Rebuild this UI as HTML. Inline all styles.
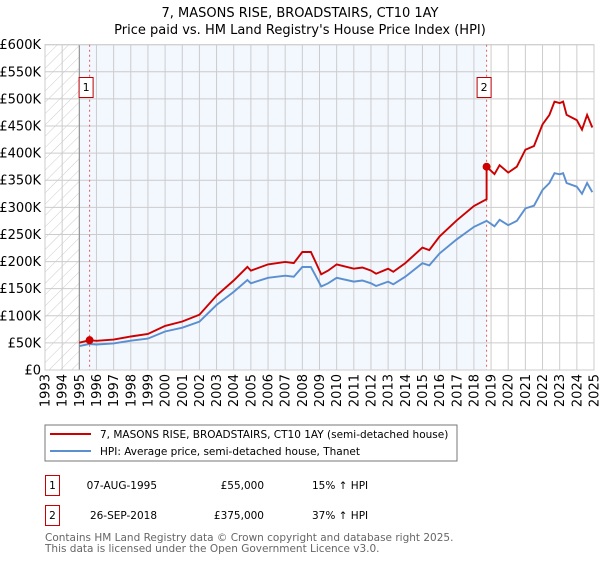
<!DOCTYPE html>
<html><head><meta charset="utf-8"><style>
body{margin:0;background:#fff;font-family:"DejaVu Sans","Liberation Sans",sans-serif;}
svg text{font-family:"DejaVu Sans","Liberation Sans",sans-serif;}
</style></head><body>
<svg width="600" height="560" viewBox="0 0 600 560">
<defs><pattern id="hatch" width="8" height="8" patternUnits="userSpaceOnUse" patternTransform="rotate(45)"><line x1="0" y1="0" x2="0" y2="8" stroke="#ccc" stroke-width="1"/></pattern></defs>
<text x="300" y="17" text-anchor="middle" font-size="13">7, MASONS RISE, BROADSTAIRS, CT10 1AY</text>
<text x="300" y="34" text-anchor="middle" font-size="13">Price paid vs. HM Land Registry's House Price Index (HPI)</text>
<g id="plot"></g>
<rect x="45" y="425" width="412" height="36" fill="#fff" stroke="#777"/>
<line x1="50" y1="434" x2="91" y2="434" stroke="#cc0000" stroke-width="2"/>
<text x="100" y="438" font-size="10.5">7, MASONS RISE, BROADSTAIRS, CT10 1AY (semi-detached house)</text>
<line x1="50" y1="451" x2="91" y2="451" stroke="#5b8fd0" stroke-width="2"/>
<text x="100" y="455" font-size="10.5">HPI: Average price, semi-detached house, Thanet</text>
<g>
<rect x="45.5" y="475.5" width="14" height="20" fill="none" stroke="#c00"/>
<text x="52.5" y="489" text-anchor="middle" font-size="10.5">1</text>
<text x="157" y="489" text-anchor="end" font-size="10.5">07-AUG-1995</text>
<text x="264" y="489" text-anchor="end" font-size="10.5">£55,000</text>
<text x="312" y="489" font-size="10.5">15% ↑ HPI</text></g>
<g>
<rect x="45.5" y="505.5" width="14" height="20" fill="none" stroke="#c00"/>
<text x="52.5" y="519" text-anchor="middle" font-size="10.5">2</text>
<text x="157" y="519" text-anchor="end" font-size="10.5">26-SEP-2018</text>
<text x="264" y="519" text-anchor="end" font-size="10.5">£375,000</text>
<text x="312" y="519" font-size="10.5">37% ↑ HPI</text></g>
<text x="45" y="541" font-size="10.5" fill="#666">Contains HM Land Registry data © Crown copyright and database right 2025.</text>
<text x="45" y="552" font-size="10.5" fill="#666">This data is licensed under the Open Government Licence v3.0.</text>
</svg>
<script>
const hpiYears=[1995.0,1995.6,1996.0,1997.0,1998.0,1999.0,2000.0,2001.0,2002.0,2003.0,2004.0,2004.8,2005.0,2006.0,2007.0,2007.5,2008.0,2008.5,2008.8,2009.1,2009.5,2010.0,2011.0,2011.5,2012.0,2012.3,2013.0,2013.3,2014.0,2015.0,2015.4,2016.0,2017.0,2018.0,2018.74,2019.2,2019.5,2020.0,2020.5,2021.0,2021.5,2022.0,2022.4,2022.7,2023.0,2023.2,2023.4,2024.0,2024.3,2024.6,2024.9];
const hpiValues=[44,48,47,49,54,58,71,78,89,120,144,166,160,170,174,172,190,190,172,154,160,170,163,165,160,155,163,158,172,197,193,215,241,264,275,265,277,267,275,298,303,332,345,363,361,363,345,338,325,345,328];
const saleYears=[1995.6,2018.74];
const salePrices=[55,375];
const yTicks=[0,50,100,150,200,250,300,350,400,450,500,550,600];
const yTickLabels=["£0","£50K","£100K","£150K","£200K","£250K","£300K","£350K","£400K","£450K","£500K","£550K","£600K"];
const xTicks=[1993,1994,1995,1996,1997,1998,1999,2000,2001,2002,2003,2004,2005,2006,2007,2008,2009,2010,2011,2012,2013,2014,2015,2016,2017,2018,2019,2020,2021,2022,2023,2024,2025];
const X0=45,X1=594,Y0=370,Y1=44.7;
const xs=y=>X0+(y-1993)/(2025-1993)*(X1-X0);
const ys=v=>Y0-v/600*(Y0-Y1);
const NS="http://www.w3.org/2000/svg";
const g=document.getElementById('plot');
function mk(t,a,p){const e=document.createElementNS(NS,t);for(const k in a)e.setAttribute(k,a[k]);(p||g).appendChild(e);return e;}
function hpiAt(t){for(let i=0;i<hpiYears.length-1;i++){if(t>=hpiYears[i]&&t<=hpiYears[i+1]){const f=(t-hpiYears[i])/(hpiYears[i+1]-hpiYears[i]);return hpiValues[i]+f*(hpiValues[i+1]-hpiValues[i]);}}return hpiValues[hpiValues.length-1];}
let bg=mk('rect',{x:X0,y:Y1,width:X1-X0,height:Y0-Y1,fill:'#fff'});

let hr=mk('rect',{x:X0,y:Y1,width:xs(1995)-X0,height:Y0-Y1,fill:'url(#hatch)'});

let band=mk('rect',{x:xs(1995),y:Y1,width:xs(saleYears[1])-xs(1995),height:Y0-Y1,fill:'#f3f7fe'});

yTicks.forEach((v,i)=>{const l=mk('line',{x1:X0,x2:X1,y1:ys(v),y2:ys(v),stroke:'#ccc'});

const t=mk('text',{x:41,y:ys(v)+4.5,'text-anchor':'end','font-size':'13'});t.textContent=yTickLabels[i];
});
xTicks.forEach(y=>{const l=mk('line',{x1:xs(y),x2:xs(y),y1:Y1,y2:Y0,stroke:'#ccc'});

const t=mk('text',{x:0,y:0,'text-anchor':'end','font-size':'13',transform:`translate(${xs(y)+4.5},374) rotate(-90)`});t.textContent=y;
});
let ax=mk('line',{x1:xs(1995),x2:xs(1995),y1:Y1,y2:Y0,stroke:'#888'});

let fr=mk('rect',{x:X0,y:Y1,width:X1-X0,height:Y0-Y1,fill:'none',stroke:'#ccc'});

saleYears.forEach((s,i)=>{const l=mk('line',{x1:xs(s),x2:xs(s),y1:Y1,y2:Y0,stroke:'#e06060','stroke-dasharray':'2,3'});
});
const bp=hpiYears.map((y,i)=>xs(y).toFixed(1)+','+ys(hpiValues[i]).toFixed(1)).join(' ');
let bl=mk('polyline',{points:bp,fill:'none',stroke:'#5b8fd0','stroke-width':1.9});

const f1=salePrices[0]/hpiAt(saleYears[0]),f2=salePrices[1]/hpiAt(saleYears[1]);
let rp=[];
hpiYears.forEach((y,i)=>{if(y<saleYears[0])return;const v=hpiValues[i]*(y<saleYears[1]?f1:f2);
if(y===saleYears[1])rp.push([xs(y),ys(hpiValues[i]*f1)]);rp.push([xs(y),ys(v)]);});
rp.unshift([xs(saleYears[0]),ys(salePrices[0])]);
let pre=mk('polyline',{points:'',fill:'none',stroke:'#cc0000','stroke-width':1.9});
const rp2=[[xs(1995),ys(hpiValues[0]*f1)]].concat(rp);
pre.setAttribute('points',rp2.map(p=>p[0].toFixed(1)+','+p[1].toFixed(1)).join(' '));

saleYears.forEach((s,i)=>{const c=mk('circle',{cx:xs(s),cy:ys(salePrices[i]),r:4,fill:'#cc0000'});

const bx=xs(s)-(i==0?10:9);const r=mk('rect',{x:bx-0.5,y:77.5,width:14,height:20,fill:'#fff',stroke:'#b00'});

const t=mk('text',{x:bx+6.5,y:91,'text-anchor':'middle','font-size':'11'});t.textContent=String(i+1);
});
</script>
</body></html>
